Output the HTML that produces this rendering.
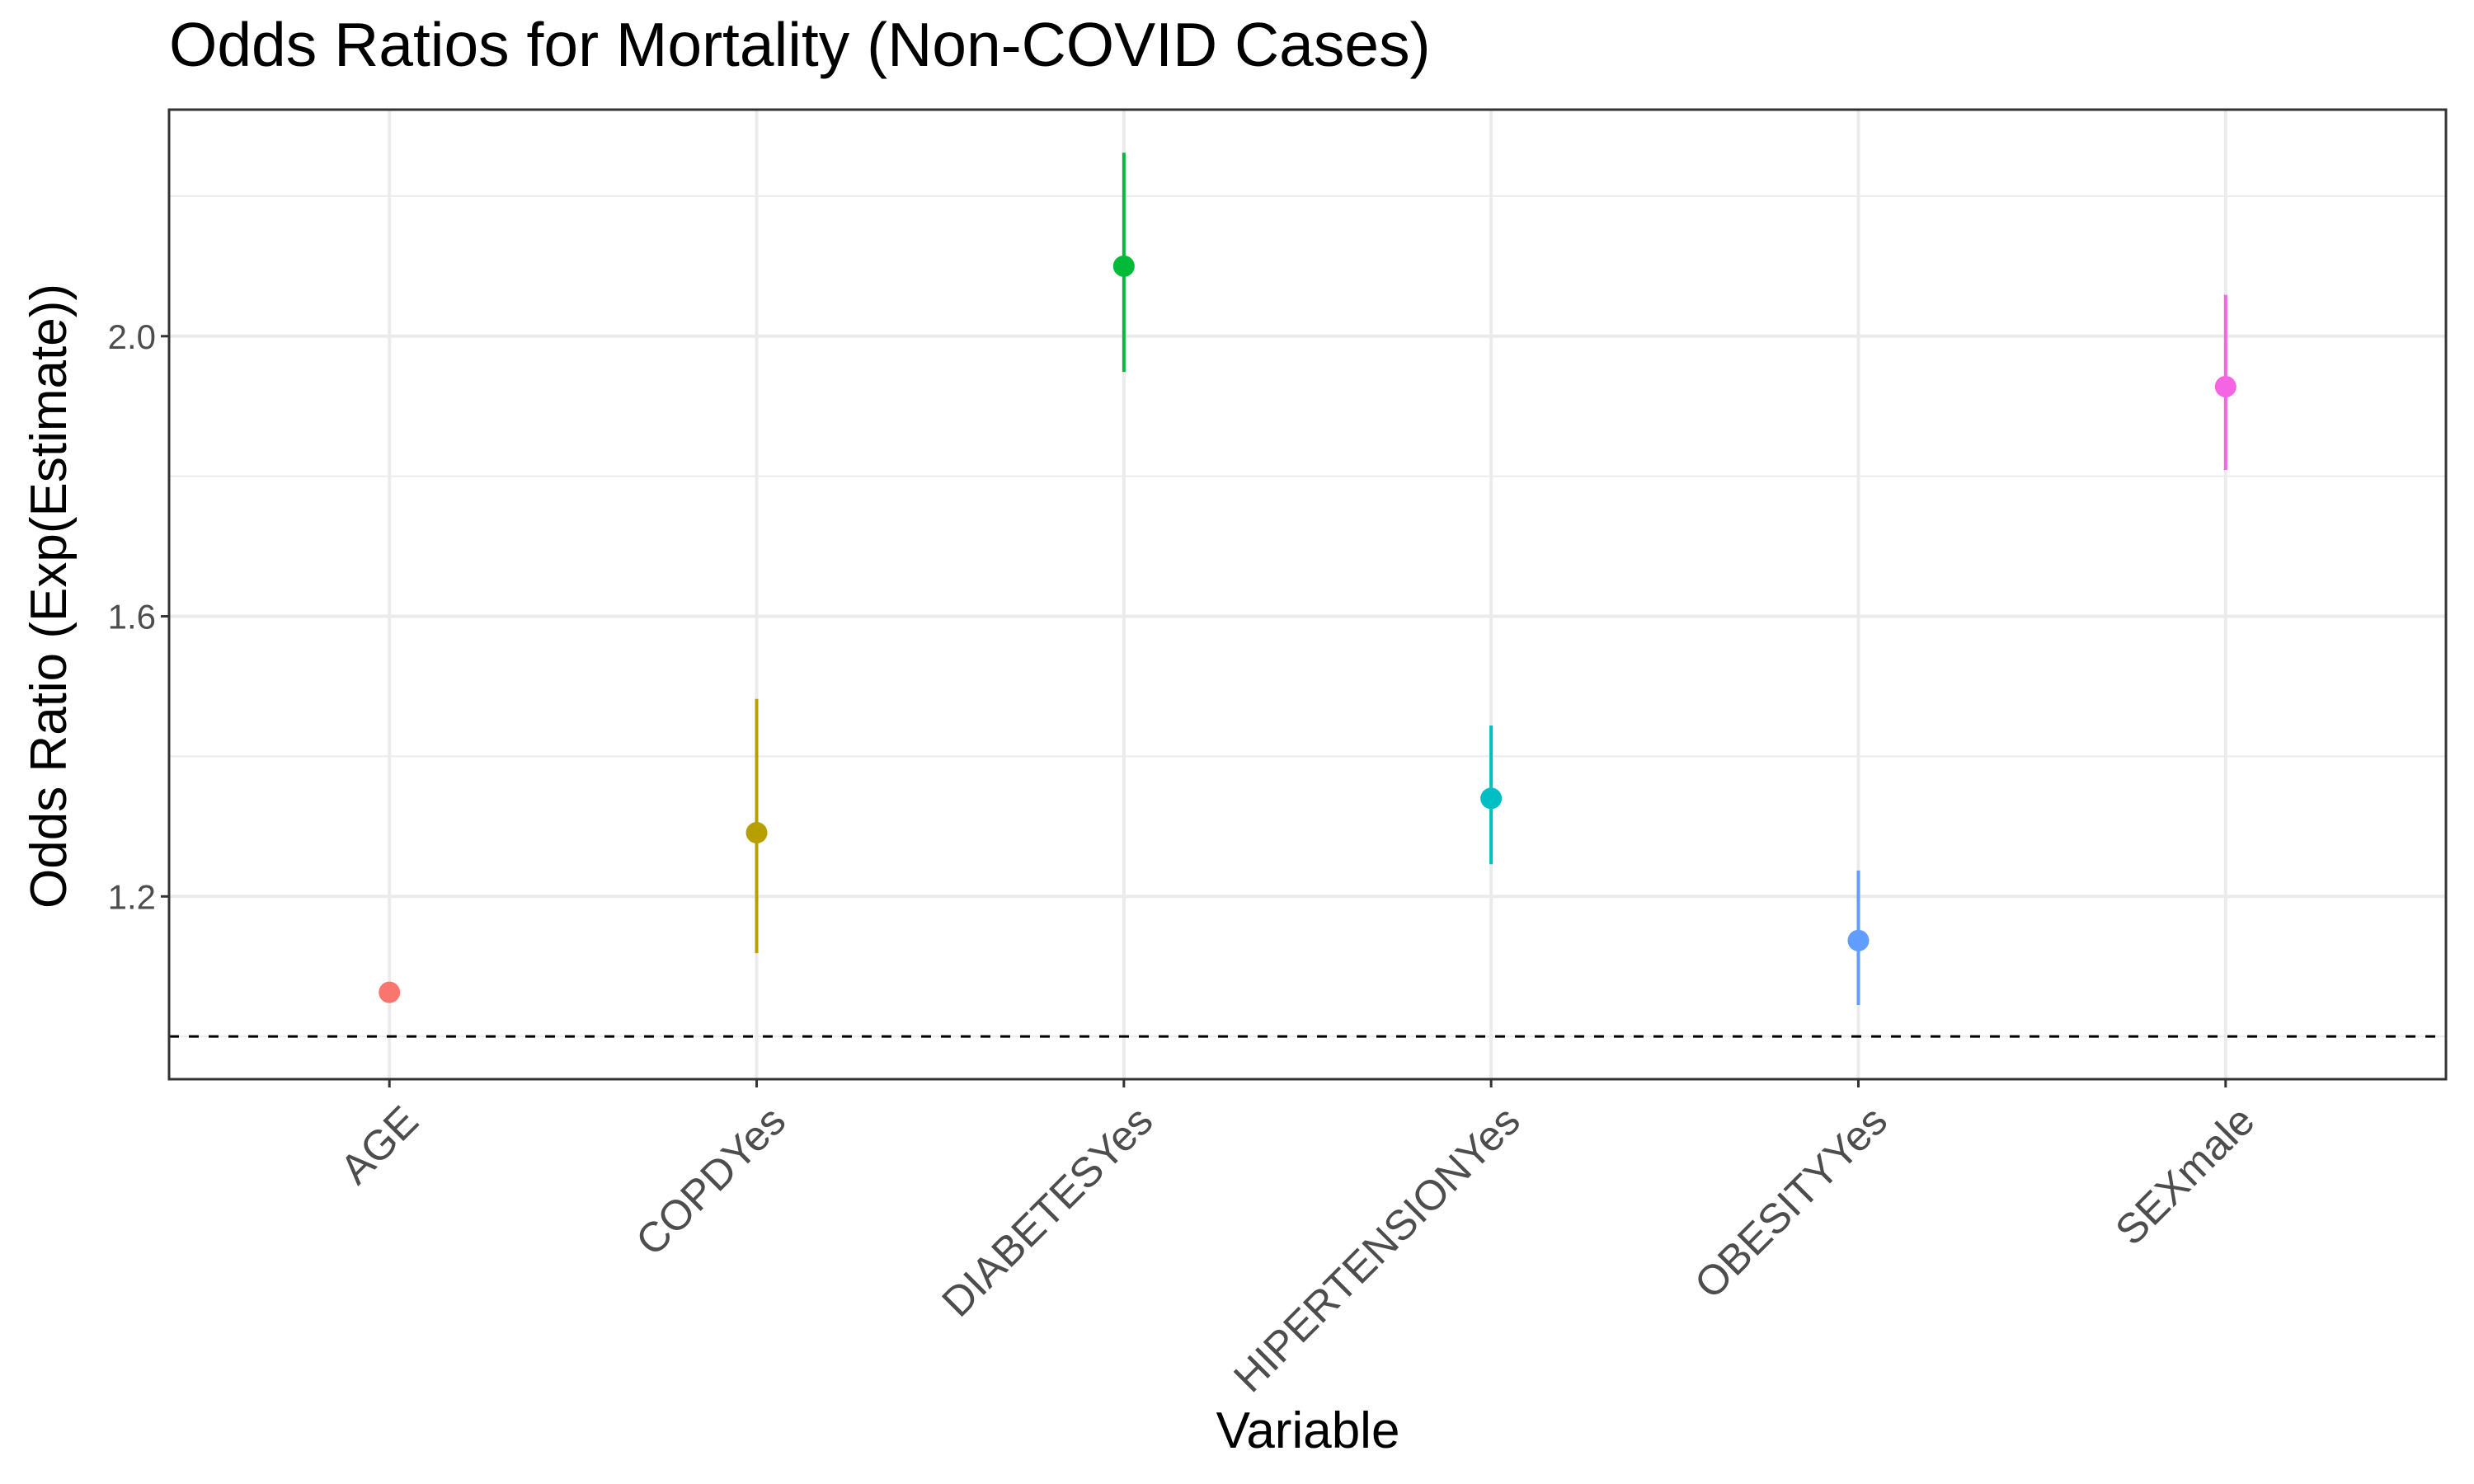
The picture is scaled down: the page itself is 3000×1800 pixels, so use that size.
<!DOCTYPE html>
<html><head><meta charset="utf-8"><style>
html,body{margin:0;padding:0;background:#fff}
svg{display:block;font-family:"Liberation Sans",Arial,sans-serif}
</style></head><body>
<svg id="chart" width="3000" height="1800" viewBox="0 0 3000 1800" xmlns="http://www.w3.org/2000/svg">
<rect width="3000" height="1800" fill="#fff"/>
<text x="205" y="80" font-size="75" fill="#000">Odds Ratios for Mortality (Non-COVID Cases)</text>
<g id="grid"></g>
<g id="marks"></g>
<g id="axes"></g>
<text x="1586" y="1756" font-size="62" text-anchor="middle" fill="#000">Variable</text>
<text transform="translate(80,723) rotate(-90)" font-size="62" text-anchor="middle" fill="#000">Odds Ratio (Exp(Estimate))</text>
</svg>
<script>
const categories = ["AGE","COPDYes","DIABETESYes","HIPERTENSIONYes","OBESITYYes","SEXmale"];
const estimates = [1.063, 1.291, 2.100, 1.340, 1.137, 1.928];
const lowerCI = [1.060, 1.119, 1.949, 1.246, 1.045, 1.809];
const upperCI = [1.066, 1.482, 2.262, 1.444, 1.237, 2.059];
const colors = ["#F8766D","#B79F00","#00BA38","#00BFC4","#619CFF","#F564E3"];
const yTicks = [1.2, 1.6, 2.0];
const yMinor = [1.0, 1.4, 1.8, 2.2];
const refValue = 1.0;

const L=205,R=2966,T=133,B=1309;
const yMin=0.939,yMax=2.3235;
const NS="http://www.w3.org/2000/svg";
function y(v){return B-(v-yMin)/(yMax-yMin)*(B-T);}
function x(i){return L+(R-L)*(i+0.6)/(categories.length+0.2);}
function mk(tag,attrs,parent){const e=document.createElementNS(NS,tag);for(const k in attrs)e.setAttribute(k,attrs[k]);parent.appendChild(e);return e;}
const grid=document.getElementById('grid'),marks=document.getElementById('marks'),axes=document.getElementById('axes');
yMinor.forEach(v=>{const l=mk('line',{x1:L,x2:R,y1:y(v),y2:y(v),stroke:'#ebebeb','stroke-width':2},grid);

});
yTicks.forEach(v=>{const l=mk('line',{x1:L,x2:R,y1:y(v),y2:y(v),stroke:'#ebebeb','stroke-width':4},grid);


const t=mk('line',{x1:L-10,x2:L,y1:y(v),y2:y(v),stroke:'#333','stroke-width':3},axes);


const tx=mk('text',{x:L-16,y:y(v)+15,'font-size':42,'text-anchor':'end',fill:'#4d4d4d'},axes);tx.textContent=v.toFixed(1);

});
categories.forEach((c,i)=>{const l=mk('line',{x1:x(i),x2:x(i),y1:T,y2:B,stroke:'#ebebeb','stroke-width':4},grid);


const t=mk('line',{x1:x(i),x2:x(i),y1:B,y2:B+10,stroke:'#333','stroke-width':3},axes);


const tx=mk('text',{transform:`translate(${x(i)+12},${B+28}) rotate(-45)`,'font-size':51,'text-anchor':'end',dy:'0.72em',fill:'#4d4d4d'},axes);tx.textContent=c;

});
const ref=mk('line',{x1:L,x2:R,y1:y(refValue),y2:y(refValue),stroke:'#000','stroke-width':3,'stroke-dasharray':'12 12'},marks);


categories.forEach((c,i)=>{const e=mk('line',{x1:x(i),x2:x(i),y1:y(lowerCI[i]),y2:y(upperCI[i]),stroke:colors[i],'stroke-width':4},marks);


const p=mk('circle',{cx:x(i),cy:y(estimates[i]),r:13,fill:colors[i]},marks);

});
const b=mk('rect',{x:L,y:T,width:R-L,height:B-T,fill:'none',stroke:'#333','stroke-width':3},axes);


</script>
</body></html>
